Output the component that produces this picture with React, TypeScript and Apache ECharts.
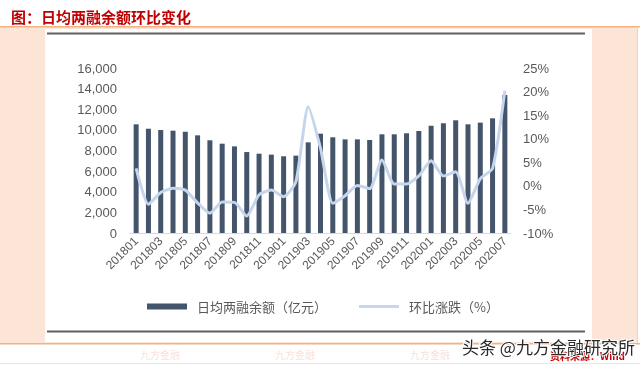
import React, { useEffect, useRef } from "react";
import * as echarts from "echarts";

const categories = [
  "201801","201802","201803","201804","201805","201806","201807","201808","201809","201810","201811","201812",
  "201901","201902","201903","201904","201905","201906","201907","201908","201909","201910","201911","201912",
  "202001","202002","202003","202004","202005","202006","202007",
];
const balance = [
  10540, 10110, 9990, 9920, 9820, 9470, 8990, 8660, 8400, 7850, 7690, 7600,
  7440, 7500, 8790, 9630, 9280, 9080, 9080, 9020, 9570, 9570, 9670, 9890,
  10400, 10640, 10930, 10540, 10700, 11120, 13380,
];
const momChange = [
  3.7, -3.9, -1.4, -0.5, -0.9, -3.6, -5.8, -3.4, -3.5, -6.4, -1.9, -0.9,
  -2.3, 0.9, 16.8, 8.0, -3.7, -2.1, 0.1, -0.6, 5.5, 0.4, 0.4, 2.1,
  5.3, 2.1, 3.0, -3.7, 1.5, 3.7, 20.2,
];
const seriesNames = ["日均两融余额（亿元）", "环比涨跌（%）"];
const titleText = "图：日均两融余额环比变化";
const watermark = "头条 @九方金融研究所";
const sourceText = "资料来源：Wind";
const faintMark = "九方金融";

const NUM_FONT = "'Liberation Sans', Arial, sans-serif";
const CJK_FONT = "'Noto Sans CJK SC', sans-serif";

export default function App() {
  const ref = useRef<HTMLDivElement>(null);
  useEffect(() => {
    if (!ref.current) return;
    const chart = echarts.init(ref.current, undefined, { renderer: "svg" });
    chart.setOption({
      animation: false,
      title: {
        text: titleText,
        left: 6,
        top: 4,
        textStyle: { fontSize: 15, fontWeight: "bold", color: "#c00000", fontFamily: CJK_FONT },
      },
      graphic: [
        { type: "rect", shape: { x: 0, y: 0, width: 640, height: 365 }, style: { fill: "#ffffff" } },
        { type: "rect", shape: { x: 0, y: 27, width: 637, height: 316 }, style: { fill: "#fce4d6" } },
        { type: "rect", shape: { x: 45, y: 29, width: 547, height: 313 }, style: { fill: "#ffffff" } },
        { type: "rect", shape: { x: 0, y: 26, width: 640, height: 1.5 }, style: { fill: "#f4b183" } },
        { type: "rect", shape: { x: 0, y: 343, width: 640, height: 1.5 }, style: { fill: "#f4b183" } },
        { type: "rect", shape: { x: 637, y: 27, width: 1, height: 316 }, style: { fill: "#d9d9d9" } },
        { type: "rect", shape: { x: 0, y: 363, width: 640, height: 1 }, style: { fill: "#fbe0d0" } },
        { type: "rect", z: 1, shape: { x: 47, y: 32.5, width: 538, height: 2 }, style: { fill: "#606060" } },
        { type: "rect", z: 1, shape: { x: 47, y: 330.5, width: 538, height: 2 }, style: { fill: "#606060" } },
        { type: "text", z: 1, x: 140, y: 349, style: { text: faintMark, fill: "#f8e2d8", fontSize: 10, fontFamily: CJK_FONT } },
        { type: "text", z: 1, x: 275, y: 349, style: { text: faintMark, fill: "#f8e2d8", fontSize: 10, fontFamily: CJK_FONT } },
        { type: "text", z: 1, x: 410, y: 349, style: { text: faintMark, fill: "#f8e2d8", fontSize: 10, fontFamily: CJK_FONT } },
        { type: "text", z: 50, x: 550, y: 350, style: { text: sourceText, fill: "#c00000", fontSize: 10, fontWeight: "bold", fontFamily: CJK_FONT } },
        {
          type: "text", z: 60, x: 462, y: 338,
          style: { text: watermark, fill: "#2a2a2a", fontSize: 17, fontFamily: CJK_FONT, stroke: "#ffffff", lineWidth: 2 },
        },
      ],
      legend: {
        left: 142,
        top: 295,
        itemWidth: 40,
        itemHeight: 6,
        itemGap: 32,
        symbolKeepAspect: true,
        textStyle: { color: "#595959", fontSize: 13, fontFamily: CJK_FONT, padding: [0, 0, 0, 5] },
        data: [
          { name: seriesNames[0], icon: "rect" },
          { name: seriesNames[1], icon: "path://M0,0H40V3H0Z" },
        ],
      },
      grid: { left: 130, right: 129, top: 68, bottom: 132 },
      xAxis: {
        type: "category",
        data: categories,
        boundaryGap: true,
        axisLine: { lineStyle: { color: "#d9d9d9", width: 1 } },
        axisTick: { show: false },
        axisLabel: {
          interval: 1,
          rotate: 45,
          margin: 6,
          color: "#595959",
          fontSize: 12,
          fontFamily: NUM_FONT,
        },
      },
      yAxis: [
        {
          type: "value",
          min: 0,
          max: 16000,
          interval: 2000,
          splitLine: { show: false },
          axisLine: { show: false },
          axisTick: { show: false },
          axisLabel: {
            margin: 13,
            color: "#595959",
            fontSize: 13,
            fontFamily: NUM_FONT,
            formatter: (v: number) => v.toLocaleString("en-US"),
          },
        },
        {
          type: "value",
          min: -10,
          max: 25,
          interval: 5,
          splitLine: { show: false },
          axisLine: { show: false },
          axisTick: { show: false },
          axisLabel: {
            margin: 12,
            color: "#595959",
            fontSize: 13,
            fontFamily: NUM_FONT,
            formatter: (v: number) => v + "%",
          },
        },
      ],
      series: [
        {
          name: seriesNames[0],
          type: "bar",
          data: balance,
          barWidth: 5,
          itemStyle: { color: "#44546a" },
          z: 2,
        },
        {
          name: seriesNames[1],
          type: "line",
          yAxisIndex: 1,
          data: momChange,
          symbol: "none",
          smooth: 0.2,
          lineStyle: { color: "#c5d6ec", width: 3 },
          itemStyle: { color: "#c5d6ec" },
          z: 3,
        },
      ],
    });
    return () => chart.dispose();
  }, []);
  return (
    <div
      ref={ref}
      style={{ position: "fixed", left: 0, top: 0, width: 640, height: 365 }}
    />
  );
}
